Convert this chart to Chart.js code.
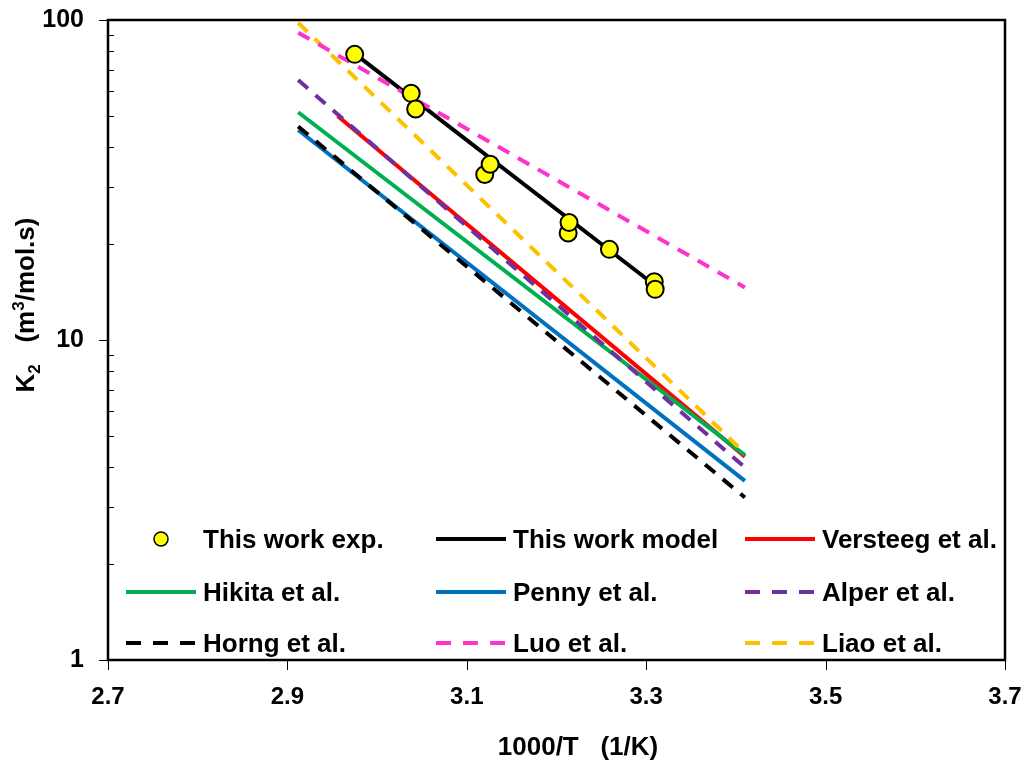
<!DOCTYPE html>
<html>
<head>
<meta charset="utf-8">
<script src="https://cdn.jsdelivr.net/npm/chart.js@4.4.1/dist/chart.umd.min.js"></script>
<style>
  body { margin: 0; background: #fff; }
  #wrap { width: 1023px; height: 763px; }
</style>
</head>
<body>
<div id="wrap"><canvas id="k2chart" width="1023" height="763"></canvas></div>
<script>
// measured rate constants, 1000/T vs K2
const expX = [2.975, 3.038, 3.043, 3.120, 3.126, 3.213, 3.214, 3.259, 3.309, 3.310];
const expK = [78.1, 59.0, 52.7, 32.9, 35.4, 21.6, 23.3, 19.2, 15.2, 14.4];

// fitted model
const modelX = [2.975, 3.31];
const modelK = [78.5, 14.8];

// literature correlations (end points of each line)
const litX = [2.912, 3.41];
const versteegX = [2.956, 3.41];
const versteegK = [50.1, 4.32];
const hikitaK = [51.5, 4.37];
const pennyK = [45.3, 3.63];
const alperK = [64.9, 4.0];
const horngK = [46.5, 3.22];
const luoK = [91.3, 14.6];
const liaoK = [98.0, 4.43];

const xTicks = [2.7, 2.9, 3.1, 3.3, 3.5, 3.7];
const yTicks = [1, 10, 100];

const FONT = '"Liberation Sans", Arial, sans-serif';

const pts = (xs, ys) => xs.map((x, i) => ({x: x, y: ys[i]}));

// dashed lines sit above the solid ones, points above everything
const line = (label, xs, ys, color, dashed, order) => ({
    label: label,
    data: pts(xs, ys),
    showLine: true,
    borderColor: color,
    backgroundColor: color,
    borderWidth: 4,
    borderDash: dashed ? [13, 10] : [],
    pointRadius: 0,
    pointHoverRadius: 0,
    fill: false,
    tension: 0,
    order: order
});

const datasets = [
    {
        label: 'This work exp.',
        data: pts(expX, expK),
        showLine: false,
        pointRadius: 8.5,
        pointHoverRadius: 8.5,
        pointBackgroundColor: '#FFFF00',
        pointBorderColor: '#000000',
        pointBorderWidth: 2,
        backgroundColor: '#FFFF00',
        borderColor: '#000000',
        order: 0
    },
    line('This work model', modelX, modelK, '#000000', false, 3),
    line('Versteeg et al.', versteegX, versteegK, '#FF0000', false, 3),
    line('Hikita et al.', litX, hikitaK, '#00B050', false, 2),
    line('Penny et al.', litX, pennyK, '#0070C0', false, 3),
    line('Alper et al.', litX, alperK, '#7030A0', true, 1),
    line('Horng et al.', litX, horngK, '#000000', true, 1),
    line('Luo et al.', litX, luoK, '#FF33CC', true, 1),
    line('Liao et al.', litX, liaoK, '#FFC000', true, 1)
];

// box, tick marks, axis titles and legend
const decor = {
    id: 'decor',
    afterDraw(chart) {
        const ctx = chart.ctx;
        const a = chart.chartArea;
        const xs = chart.scales.x, ys = chart.scales.y;
        ctx.save();
        ctx.strokeStyle = '#000';

        // ticks
        ctx.lineWidth = 1;
        ctx.beginPath();
        yTicks.forEach(v => {
            const y = Math.round(ys.getPixelForValue(v)) + 0.5;
            ctx.moveTo(a.left - 9, y); ctx.lineTo(a.left, y);
        });
        for (let d = 1; d < 100; d *= 10) {
            for (let m = 2; m <= 9; m++) {
                const y = Math.round(ys.getPixelForValue(d * m)) + 0.5;
                ctx.moveTo(a.left, y); ctx.lineTo(a.left + 6, y);
            }
        }
        xTicks.forEach(v => {
            const x = Math.round(xs.getPixelForValue(v)) + 0.5;
            ctx.moveTo(x, a.bottom); ctx.lineTo(x, a.bottom + 10);
        });
        ctx.stroke();

        // plot frame
        ctx.lineWidth = 2.5;
        ctx.strokeRect(a.left, a.top, a.right - a.left, a.bottom - a.top);

        // x title
        ctx.fillStyle = '#000';
        ctx.font = 'bold 26px ' + FONT;
        ctx.textAlign = 'center';
        ctx.textBaseline = 'alphabetic';
        ctx.fillText('1000/T   (1/K)', 578, 755);

        // y title with sub/superscript
        ctx.save();
        ctx.translate(34, 305);
        ctx.rotate(-Math.PI / 2);
        ctx.textAlign = 'left';
        const big = 'bold 26px ' + FONT, small = 'bold 17px ' + FONT;
        const parts = [
            {t: 'K', f: big, dy: 0},
            {t: '2', f: small, dy: 6},
            {t: '   (m', f: big, dy: 0},
            {t: '3', f: small, dy: -10},
            {t: '/mol.s)', f: big, dy: 0}
        ];
        let total = 0;
        parts.forEach(p => { ctx.font = p.f; p.w = ctx.measureText(p.t).width; total += p.w; });
        let px = -total / 2;
        parts.forEach(p => { ctx.font = p.f; ctx.fillText(p.t, px, p.dy); px += p.w; });
        ctx.restore();

        // legend, three columns inside the plot
        const colX = [126, 436, 745];
        const rowY = [548, 601, 652];
        ctx.font = 'bold 26px ' + FONT;
        ctx.textAlign = 'left';
        chart.data.datasets.forEach((ds, i) => {
            const x0 = colX[i % 3], yb = rowY[Math.floor(i / 3)];
            const ym = yb - 9;
            if (ds.showLine) {
                ctx.strokeStyle = ds.borderColor;
                ctx.lineWidth = 4;
                ctx.setLineDash(ds.borderDash.length ? [15, 12] : []);
                ctx.beginPath();
                ctx.moveTo(x0, ym); ctx.lineTo(x0 + 70, ym);
                ctx.stroke();
                ctx.setLineDash([]);
            } else {
                ctx.fillStyle = ds.pointBackgroundColor;
                ctx.strokeStyle = ds.pointBorderColor;
                ctx.lineWidth = 1.5;
                ctx.beginPath();
                ctx.arc(x0 + 35, ym, 7, 0, Math.PI * 2);
                ctx.fill(); ctx.stroke();
            }
            ctx.fillStyle = '#000';
            ctx.fillText(ds.label, x0 + 77, yb);
        });
        ctx.restore();
    }
};

new Chart(document.getElementById('k2chart'), {
    type: 'scatter',
    data: {datasets: datasets},
    options: {
        responsive: false,
        animation: false,
        events: [],
        layout: {padding: {top: 20, right: 18, left: 0, bottom: 0}},
        plugins: {legend: {display: false}, tooltip: {enabled: false}},
        scales: {
            x: {
                type: 'linear',
                min: 2.7,
                max: 3.7,
                afterBuildTicks: s => { s.ticks = xTicks.map(v => ({value: v})); },
                afterFit: s => { s.height = 103; s.paddingLeft = 0; s.paddingRight = 0; },
                grid: {display: false, drawTicks: false},
                border: {display: false},
                ticks: {
                    padding: 23,
                    color: '#000',
                    font: {family: FONT, size: 24, weight: 'bold'},
                    callback: v => Number(v).toFixed(1)
                }
            },
            y: {
                type: 'logarithmic',
                min: 1,
                max: 100,
                afterBuildTicks: s => { s.ticks = yTicks.map(v => ({value: v})); },
                afterFit: s => { s.width = 108; s.paddingTop = 0; s.paddingBottom = 0; },
                grid: {display: false, drawTicks: false},
                border: {display: false},
                ticks: {
                    padding: 24,
                    color: '#000',
                    font: {family: FONT, size: 25, weight: 'bold'},
                    callback: v => String(v)
                }
            }
        }
    },
    plugins: [decor]
});
</script>
</body>
</html>
